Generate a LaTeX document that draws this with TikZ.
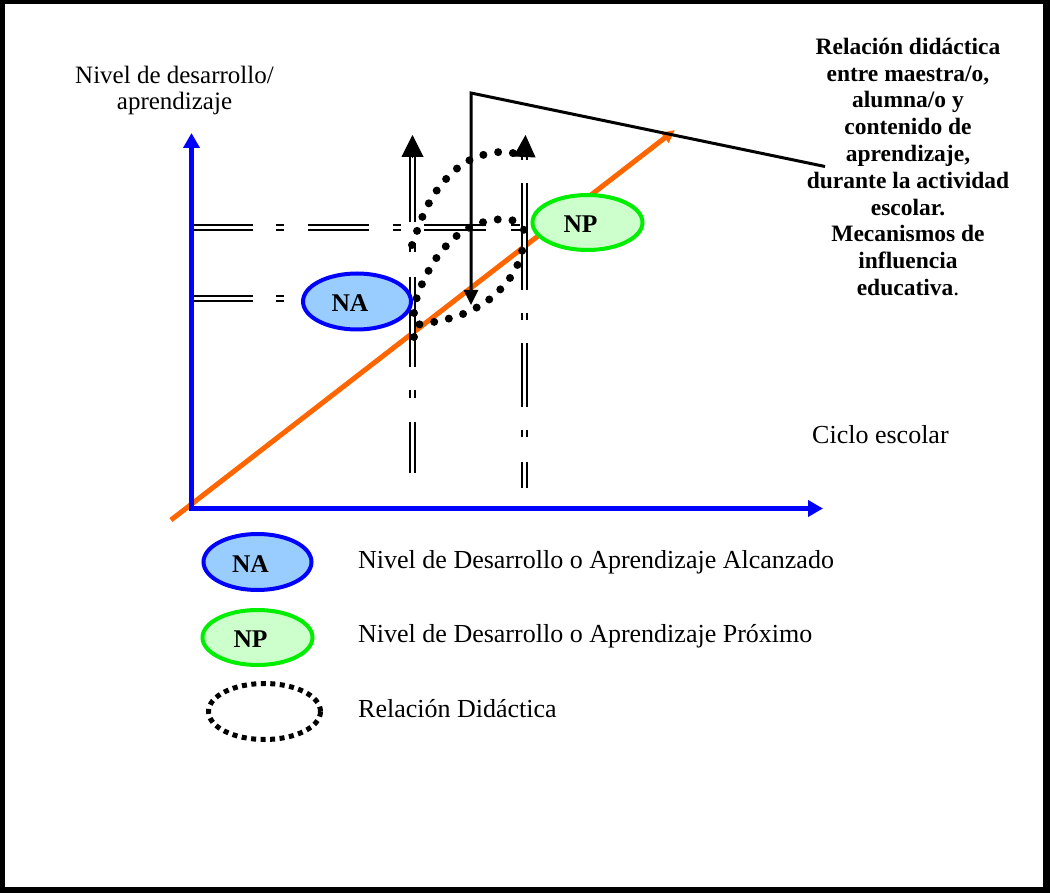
\documentclass[tikz,border=0pt]{standalone}
\usepackage{fontspec}
\setmainfont{Liberation Serif}
\usetikzlibrary{arrows.meta,shapes.geometric}
\definecolor{axisblue}{HTML}{0000FF}
\definecolor{nafill}{HTML}{99CCFF}
\definecolor{npgreen}{HTML}{00EE00}
\definecolor{npfill}{HTML}{CCFFCC}
\definecolor{trend}{HTML}{FF6600}

\begin{document}
\begin{tikzpicture}[x=1pt, y=-1pt,
  axis/.style={draw=axisblue, line width=5pt, line join=miter,
               {Triangle[length=15pt,width=16pt]}-{Triangle[length=15pt,width=16pt]}},
  growth/.style={draw=trend, line width=5pt, -{Triangle[length=13pt,width=12pt]}},
  level/.style={double, double distance=3pt, line width=2pt},
  levelhead/.style={line width=1pt, -{Triangle[length=22pt,width=22pt]}},
  relation/.style={line width=8pt, line cap=round, dash pattern=on 0pt off 15pt},
  na/.style={ellipse, draw=axisblue, fill=nafill, line width=4pt, inner sep=0pt,
             minimum width=108pt, minimum height=56pt},
  np/.style={ellipse, draw=npgreen, fill=npfill, line width=4pt, inner sep=0pt,
             minimum width=110pt, minimum height=55pt},
  relkey/.style={ellipse, draw, line width=5pt, inner sep=0pt, dash pattern=on 5pt off 4.5pt,
                 minimum width=112pt, minimum height=56pt},
  tag/.style={inner sep=0pt, xshift=-7pt, yshift=-2pt, font=\fontsize{25.5}{29}\selectfont\bfseries},
  pointer/.style={line width=3pt, line join=miter, -{Triangle[length=15pt,width=14pt]}},
  plain/.style={inner sep=0pt, font=\fontsize{26}{26.5}\selectfont},
  legendtext/.style={plain, anchor=base west},
  explain/.style={align=center, inner sep=0pt, anchor=base,
                  font=\fontsize{23.5}{26.8}\selectfont\bfseries}
]
  \useasboundingbox (0,0) rectangle (1050,893);
  % frame
  \fill (0,0) rectangle (1050,893);
  \fill[white] (5,4.5) rectangle (1043,887);

  \coordinate (origin) at (191.5,508.5);
  \coordinate (ytip) at (191.5,133);
  \coordinate (xtip) at (823,508.5);

  % trend line and axes
  \draw[growth] (171,520) coordinate (tstart) -- (675,130) coordinate (tend);
  \draw[axis] (ytip) -- (origin) -- (xtip);

  % levels
  \draw[level, dash pattern=on 59pt off 23pt on 8pt off 24pt on 61pt off 24pt on 8pt off 23pt on 62pt off 25pt on 10pt]
    (194,227.5) coordinate (hup) -- (520,227.5);
  \draw[level, dash pattern=on 59pt off 23pt on 8pt off 24pt on 100pt]
    (194,298.5) coordinate (hlow) -- (340,298.5);
  \draw[level, dash pattern=on 65pt off 21pt on 9pt off 25pt on 90pt off 23pt on 8pt off 24pt on 51pt]
    (412.5,157) coordinate (lbase) -- (412.5,473);
  \draw[level, dash pattern=on 3pt off 23pt on 107pt off 23pt on 7pt off 23pt on 64pt off 23pt on 7pt off 25pt on 26pt]
    (524.5,157) coordinate (rbase) -- (524.5,488);
  \draw[levelhead] (lbase) -- (412.5,135);
  \draw[levelhead] (rbase) -- (525.5,135);

  % didactic relation
  \draw[relation] plot[smooth, tension=0.7] coordinates
    {(412,245) (417,231) (429,203) (448,177) (472.7,158.7) (502.7,151.7) (517,155) (524,161)};
  \draw[relation] plot[smooth, tension=0.7] coordinates
    {(414,313) (416.7,298) (429,270) (448,244) (472.7,226) (502.7,219) (516.7,222.7) (524,230)};
  \draw[relation] plot[smooth, tension=0.7] coordinates
    {(414,337) (418,325) (444,320) (474,309) (498.7,291) (517,266) (525,237)};

  \node[na] (na) at (357,301.5) {};
  \node[tag] at (na) {NA};
  \node[np] (np) at (587.5,222.5) {};
  \node[tag] at (np) {NP};

  % pointer to the note
  \coordinate (corner) at (471,93);
  \draw[pointer] (825,166.5) coordinate (noteend) -- (corner) -- (471,305);

  \node[explain] (note) at (908,295.5) {Relación didáctica\\entre maestra/o,\\alumna/o y\\contenido de\\aprendizaje,\\durante la actividad\\escolar.\\Mecanismos de\\influencia\\educativa{\mdseries.}};
  \node[plain, align=center, anchor=base, font=\fontsize{25}{26.5}\selectfont] (ylabel) at (174.5,110) {Nivel de desarrollo/\\aprendizaje};
  \node[legendtext] (xlabel) at (812,443) {Ciclo escolar};

  % legend
  \node[na] (keyna) at (257.5,562) {};
  \node[tag] at (keyna) {NA};
  \node[np] (keynp) at (257.5,637.5) {};
  \node[tag] at (keynp) {NP};
  \node[relkey] (keyrel) at (264.5,711.5) {};
  \node[legendtext] (txtna) at (358,568) {Nivel de Desarrollo o Aprendizaje Alcanzado};
  \node[legendtext] (txtnp) at (358,642) {Nivel de Desarrollo o Aprendizaje Próximo};
  \node[legendtext] (txtrel) at (358,717) {Relación Didáctica};
\end{tikzpicture}
\end{document}
